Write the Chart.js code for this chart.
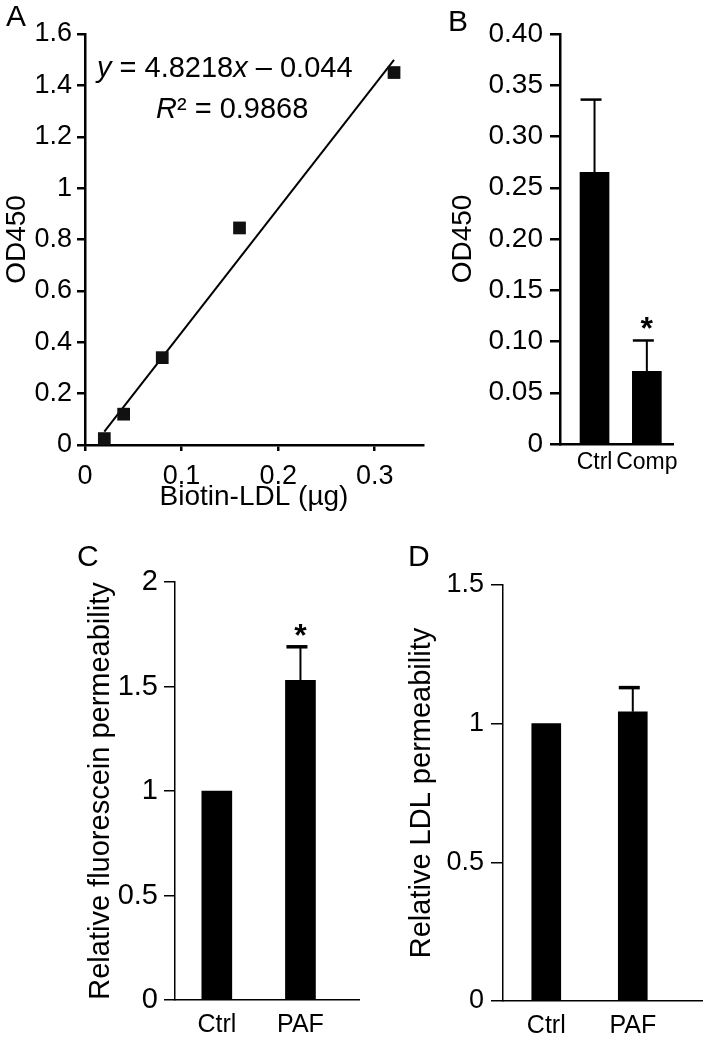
<!DOCTYPE html>
<html>
<head>
<meta charset="utf-8">
<script src="https://cdn.jsdelivr.net/npm/chart.js@4.4.1/dist/chart.umd.min.js"></script>
<style>
  body { margin: 0; background: #fff; }
  #fig { position: relative; width: 704px; height: 1040px; font-family: "Liberation Sans", Arial, sans-serif; }
  #fig canvas { position: absolute; }
  .tag { position: absolute; font-size: 30px; line-height: 1; color: #000; }
</style>
</head>
<body>
<div id="fig">
  <canvas id="cA" width="432" height="520" style="left:0;top:0"></canvas>
  <canvas id="cB" width="272" height="520" style="left:432px;top:0"></canvas>
  <canvas id="cC" width="362" height="520" style="left:0;top:520px"></canvas>
  <canvas id="cD" width="342" height="520" style="left:362px;top:520px"></canvas>
  <div class="tag" style="left:6px;top:1px">A</div>
  <div class="tag" style="left:448px;top:6px">B</div>
  <div class="tag" style="left:77px;top:541px">C</div>
  <div class="tag" style="left:408px;top:541px">D</div>
</div>
<script>
// A: standard curve
const doseA = [0.02, 0.04, 0.08, 0.16, 0.32];
const odA = [0.025, 0.12, 0.34, 0.845, 1.45];
const fitX = [0.02, 0.32];
const fitY = [0.052, 1.499];
const yTicksA = [0, 0.2, 0.4, 0.6, 0.8, 1, 1.2, 1.4, 1.6];
const yLabelsA = ['0', '0.2', '0.4', '0.6', '0.8', '1', '1.2', '1.4', '1.6'];
const xTicksA = [0, 0.1, 0.2, 0.3];
const xLabelsA = ['0', '0.1', '0.2', '0.3'];

// B
const groupsB = ['Ctrl', 'Comp'];
const odB = [0.265, 0.071];
const sdB = [0.071, 0.030];
const starB = [false, true];
const yTicksB = [0, 0.05, 0.1, 0.15, 0.2, 0.25, 0.3, 0.35, 0.4];
const yLabelsB = ['0', '0.05', '0.10', '0.15', '0.20', '0.25', '0.30', '0.35', '0.40'];

// C
const groupsC = ['Ctrl', 'PAF'];
const fluoC = [1, 1.53];
const sdC = [0, 0.16];
const starC = [false, true];
const yTicksC = [0, 0.5, 1, 1.5, 2];
const yLabelsC = ['0', '0.5', '1', '1.5', '2'];

// D
const groupsD = ['Ctrl', 'PAF'];
const ldlD = [1, 1.043];
const sdD = [0, 0.087];
const starD = [false, false];
const yTicksD = [0, 0.5, 1, 1.5];
const yLabelsD = ['0', '0.5', '1', '1.5'];

const FONT = '"Liberation Sans", Arial, sans-serif';
Chart.defaults.font.family = FONT;
Chart.defaults.color = '#000';

function sized(w, h) {
  return s => {
    if (w != null) s.width = w;
    if (h != null) s.height = h;
    s.paddingTop = s.paddingBottom = s.paddingLeft = s.paddingRight = 0;
  };
}

const errorBars = {
  id: 'errorBars',
  afterDatasetsDraw(chart, args, o) {
    const { ctx, scales: { x, y } } = chart;
    ctx.save();
    ctx.strokeStyle = '#000';
    ctx.fillStyle = '#000';
    o.means.forEach((m, i) => {
      const px = x.getPixelForValue(i + 1);
      const top = y.getPixelForValue(m + o.sd[i]);
      if (o.sd[i] > 0) {
        ctx.lineWidth = 2;
        ctx.beginPath();
        ctx.moveTo(px, y.getPixelForValue(m));
        ctx.lineTo(px, top);
        ctx.stroke();
        ctx.lineWidth = o.cap;
        ctx.beginPath();
        ctx.moveTo(px - 14, top);
        ctx.lineTo(px + 7, top);
        ctx.stroke();
      }
      if (o.stars[i]) {
        ctx.font = 'bold 32px ' + FONT;
        ctx.textAlign = 'center';
        ctx.fillText('*', px, top - 1);
      }
    });
    ctx.restore();
  }
};

const fitLabel = {
  id: 'fitLabel',
  afterDraw(chart) {
    const { ctx, chartArea } = chart;
    const put = (parts, x, y) => {
      parts.forEach(([t, it]) => {
        ctx.font = (it ? 'italic ' : '') + '29px ' + FONT;
        ctx.fillText(t, x, y);
        x += ctx.measureText(t).width;
      });
    };
    ctx.save();
    ctx.fillStyle = '#000';
    put([['y', 1], [' = 4.8218', 0], ['x', 1], [' \u2013 0.044', 0]], chartArea.left + 12, chartArea.top + 43);
    put([['R', 1], ['\u00b2 = 0.9868', 0]], chartArea.left + 71, chartArea.top + 84);
    ctx.restore();
  }
};

new Chart(document.getElementById('cA'), {
  type: 'scatter',
  data: {
    datasets: [
      {
        data: doseA.map((d, i) => ({ x: d, y: odA[i] })),
        pointStyle: 'rect',
        pointRadius: 9,
        backgroundColor: '#111',
        borderWidth: 0
      },
      {
        data: fitX.map((d, i) => ({ x: d, y: fitY[i] })),
        showLine: true,
        borderColor: '#000',
        borderWidth: 2,
        pointRadius: 0
      }
    ]
  },
  options: {
    responsive: false,
    animation: false,
    layout: { padding: { left: 0, top: 34, right: 7, bottom: 0 } },
    plugins: { legend: { display: false }, tooltip: { enabled: false } },
    scales: {
      x: {
        min: 0, max: 0.35,
        afterBuildTicks: s => { s.ticks = xTicksA.map(v => ({ value: v })); },
        afterFit: sized(null, 75),
        grid: { drawOnChartArea: false, color: '#000', lineWidth: 2.5, tickLength: 6 },
        border: { color: '#000', width: 2.5 },
        ticks: { font: { size: 27 }, padding: 9, maxRotation: 0, callback: (v, i) => xLabelsA[i] },
        title: { display: true, text: 'Biotin-LDL (\u00b5g)', font: { size: 28 }, padding: { top: 0, bottom: 6 } }
      },
      y: {
        min: 0, max: 1.6,
        afterBuildTicks: s => { s.ticks = yTicksA.map(v => ({ value: v })); },
        afterFit: sized(85, null),
        grid: { drawOnChartArea: false, color: '#000', lineWidth: 2.5, tickLength: 8 },
        border: { color: '#000', width: 2.5 },
        ticks: { font: { size: 27 }, padding: 5, callback: (v, i) => yLabelsA[i] },
        title: { display: true, text: 'OD450', font: { size: 28 }, padding: { top: 0, bottom: 0 } }
      }
    }
  },
  plugins: [fitLabel]
});

function barPanel(id, g) {
  new Chart(document.getElementById(id), {
    type: 'bar',
    data: {
      datasets: [{
        data: g.means.map((m, i) => ({ x: i + 1, y: m })),
        backgroundColor: '#000',
        borderWidth: 0,
        barThickness: g.bar
      }]
    },
    options: {
      responsive: false,
      animation: false,
      layout: { padding: { left: 0, top: g.top, right: g.right, bottom: 0 } },
      plugins: {
        legend: { display: false },
        tooltip: { enabled: false },
        errorBars: { means: g.means, sd: g.sd, stars: g.stars, cap: g.cap }
      },
      scales: {
        x: {
          type: 'linear',
          offset: false,
          min: g.xMin, max: g.xMax,
          afterBuildTicks: s => { s.ticks = g.cats.map((c, i) => ({ value: i + 1 })); },
          afterFit: sized(null, g.xH),
          grid: { display: false, drawTicks: false, offset: false },
          border: { color: '#000', width: g.line },
          ticks: { font: { size: g.xFont }, padding: g.xPad, maxRotation: 0, callback: (v, i) => g.cats[i] }
        },
        y: {
          min: g.yTicks[0], max: g.yTicks[g.yTicks.length - 1],
          afterBuildTicks: s => { s.ticks = g.yTicks.map(v => ({ value: v })); },
          afterFit: sized(g.yW, null),
          grid: { drawOnChartArea: false, color: '#000', lineWidth: g.line, tickLength: g.tick },
          border: { color: '#000', width: g.line },
          ticks: { font: { size: g.yFont }, padding: g.yPad, callback: (v, i) => g.yLabels[i] },
          title: { display: true, text: g.title, font: { size: g.tFont }, padding: { top: g.tPad, bottom: 0 } }
        }
      }
    },
    plugins: [errorBars]
  });
}

barPanel('cB', {
  cats: groupsB, means: odB, sd: sdB, stars: starB, yTicks: yTicksB, yLabels: yLabelsB,
  title: 'OD450', top: 34, right: 31, yW: 128, xH: 76, xMin: 0.34, xMax: 2.5, bar: 29,
  line: 2.5, tick: 10, yFont: 28, yPad: 7, xFont: 23, xPad: 5, tFont: 28, tPad: 14, cap: 2.5
});

barPanel('cC', {
  cats: groupsC, means: fluoC, sd: sdC, stars: starC, yTicks: yTicksC, yLabels: yLabelsC,
  title: 'Relative fluorescein permeability', top: 62, right: 3, yW: 175, xH: 40, xMin: 0.5, xMax: 2.7, bar: 30,
  line: 1.5, tick: 11, yFont: 29, yPad: 6, xFont: 25, xPad: 10, tFont: 29, tPad: 84, cap: 3.5
});

barPanel('cD', {
  cats: groupsD, means: ldlD, sd: sdD, stars: starD, yTicks: yTicksD, yLabels: yLabelsD,
  title: 'Relative LDL permeability', top: 65, right: 2, yW: 141, xH: 39, xMin: 0.5, xMax: 2.8, bar: 29,
  line: 1.5, tick: 12, yFont: 27, yPad: 7, xFont: 25, xPad: 10, tFont: 29, tPad: 43, cap: 3.5
});
</script>
</body>
</html>
